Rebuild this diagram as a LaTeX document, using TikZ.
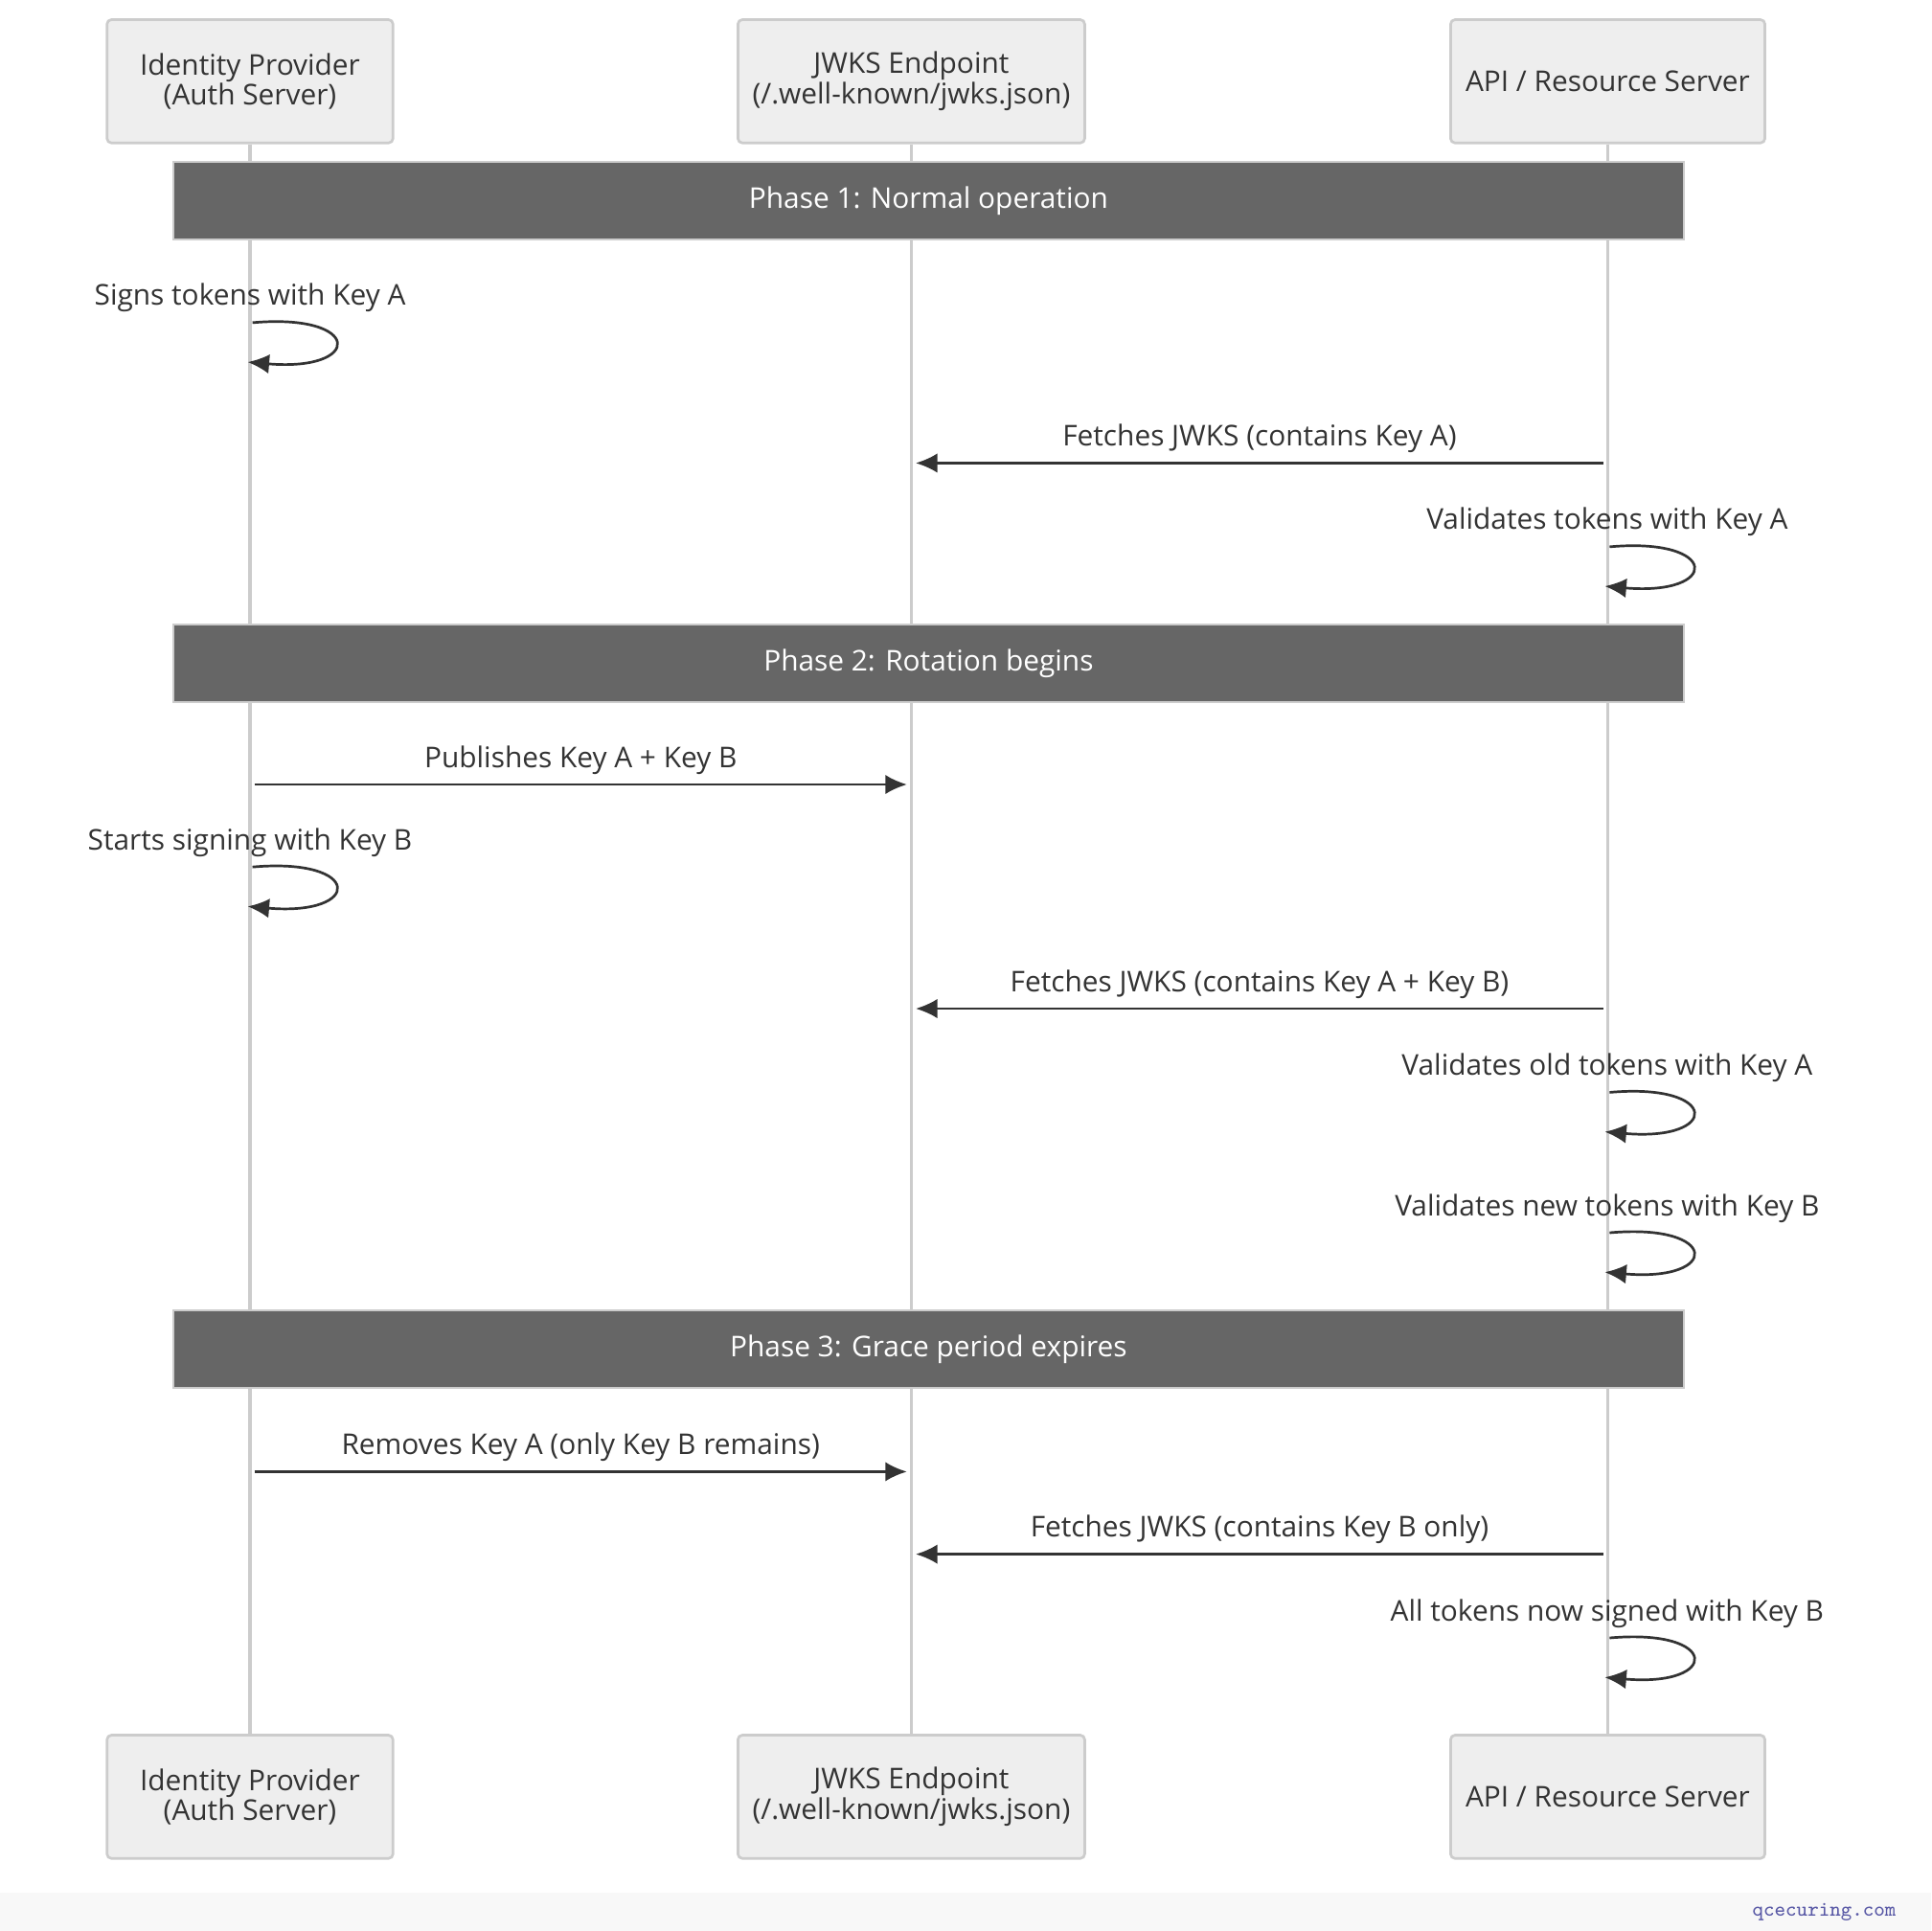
\documentclass[tikz,border=0pt]{standalone}
\usepackage{fontspec}
\setmainfont{Open Sans}
\usetikzlibrary{arrows.meta,calc}
\definecolor{box-fill}{HTML}{EEEEEE}
\definecolor{box-line}{HTML}{CCCCCC}
\definecolor{bar-fill}{HTML}{666666}
\definecolor{ink}{HTML}{333333}
\tikzset{
  actor/.style={draw=box-line, fill=box-fill, rounded corners=1pt, line width=0.6pt,
    minimum height=1cm, align=center, text=ink, font=\fontsize{6.6}{7}\selectfont},
  phase/.style={draw=box-line, fill=bar-fill, minimum width=12.26cm, minimum height=0.63cm,
    text=white, font=\fontsize{6.6}{7}\selectfont},
  msg/.style={text=ink, font=\fontsize{6.6}{7}\selectfont},
  life/.style={draw=box-line, line width=0.8pt},
  call/.style={draw=ink, line width=0.6pt, -{Latex[length=5pt,width=4.5pt]}},
}
\begin{document}
\begin{tikzpicture}[x=0.01cm, y=-0.01cm]
    \useasboundingbox (0,0) rectangle (1568,1568);
    \fill[box-fill!40] (0,1537) rectangle (1568,1568);
    \node[anchor=east, text=gray!70!blue, font=\ttfamily\fontsize{4.8}{5}\selectfont] (mark) at (1552,1553) {qcecuring.com};
    % actors
    \node[actor, minimum width=2.32cm] (idp) at (203,66) {Identity Provider\\(Auth Server)};
    \node[actor, minimum width=2.80cm] (jwks) at (740,66) {JWKS Endpoint\\(/.well-known/jwks.json)};
    \node[actor, minimum width=2.55cm] (api) at (1305.5,66) {API / Resource Server};
    \node[actor, minimum width=2.32cm] (idpB) at (203,1459) {Identity Provider\\(Auth Server)};
    \node[actor, minimum width=2.80cm] (jwksB) at (740,1459) {JWKS Endpoint\\(/.well-known/jwks.json)};
    \node[actor, minimum width=2.55cm] (apiB) at (1305.5,1459) {API / Resource Server};
    \foreach \a in {idp,jwks,api}
      \draw[life] (\a.south) -- (\a B.north);
    % phases
    \node[phase] (ph1) at (754,163) {Phase 1: Normal operation};
    \node[phase] (ph2) at (754,538.5) {Phase 2: Rotation begins};
    \node[phase] (ph3) at (754,1095.5) {Phase 3: Grace period expires};
    % self calls
    \foreach \x/\y/\txt [count=\i] in {203/262/Signs tokens with Key A,
        1305/444/Validates tokens with Key A,
        203/704/Starts signing with Key B,
        1305/887/Validates old tokens with Key A,
        1305/1001/Validates new tokens with Key B,
        1305/1330/All tokens now signed with Key B} {
      \node[msg] (self\i) at (\x,\y-20) {\txt};
      \coordinate (s\i) at (\x+2,\y);
      \coordinate (e\i) at (\x-2,\y+32);
      \draw[call] (s\i) .. controls (\x+92,\y-8) and (\x+92,\y+40) .. (e\i);
    }
    % messages
    \foreach \from/\to/\y/\txt [count=\i] in {api/jwks/376/Fetches JWKS (contains Key A),
        idp/jwks/637/Publishes Key A + Key B,
        api/jwks/819/Fetches JWKS (contains Key A + Key B),
        idp/jwks/1195/Removes Key A (only Key B remains),
        api/jwks/1262/Fetches JWKS (contains Key B only)} {
      \coordinate (m\i a) at (\from.south |- 0,\y);
      \coordinate (m\i b) at (\to.south |- 0,\y);
      \draw[call, shorten <=1pt, shorten >=1pt] (m\i a) -- (m\i b);
      \node[msg] (lbl\i) at ($(m\i a)!0.5!(m\i b)+(0,-20)$) {\txt};
    }
\end{tikzpicture}
\end{document}
